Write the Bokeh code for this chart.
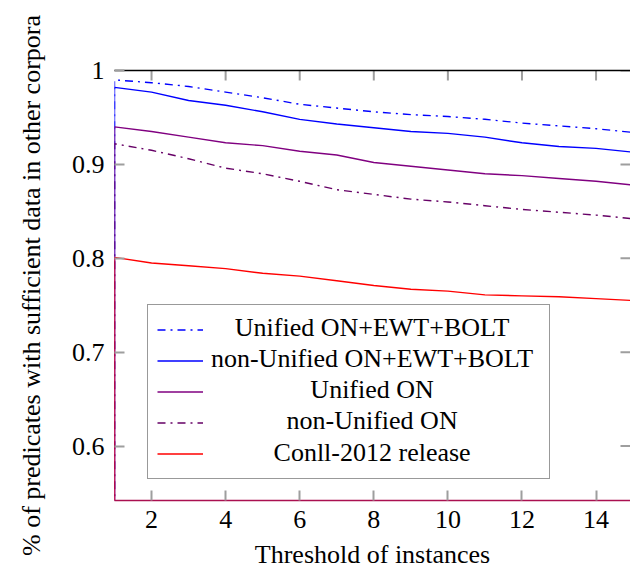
from bokeh.plotting import figure
from bokeh.models import (Range1d, FixedTicker, LinearAxis, Legend, LegendItem,
                          Label, CustomJSTickFormatter)
from bokeh.embed import file_html
from bokeh.resources import INLINE

# ---------------- data ----------------
thresholds = [1, 2, 3, 4, 5, 6, 7, 8, 9, 10, 11, 12, 13, 14, 15]

unified_all = [0.990, 0.987, 0.983, 0.977, 0.971, 0.964, 0.960, 0.956,
               0.953, 0.951, 0.948, 0.944, 0.941, 0.938, 0.934]
nonunified_all = [0.982, 0.977, 0.968, 0.963, 0.956, 0.948, 0.943, 0.939,
                  0.935, 0.933, 0.929, 0.923, 0.919, 0.917, 0.913]
unified_on = [0.940, 0.935, 0.929, 0.923, 0.920, 0.914, 0.910, 0.902,
              0.898, 0.894, 0.890, 0.888, 0.885, 0.882, 0.878]
nonunified_on = [0.922, 0.915, 0.906, 0.896, 0.890, 0.882, 0.873, 0.868,
                 0.863, 0.860, 0.856, 0.852, 0.849, 0.846, 0.842]
conll = [0.801, 0.795, 0.792, 0.789, 0.784, 0.781, 0.776, 0.771,
         0.767, 0.765, 0.761, 0.760, 0.759, 0.757, 0.755]

series_names = ["Unified ON+EWT+BOLT", "non-Unified ON+EWT+BOLT", "Unified ON",
                "non-Unified ON", "Conll-2012 release"]
series_values = [unified_all, nonunified_all, unified_on, nonunified_on, conll]
series_colors = ["#0000ff", "#0000ff", "#800080", "#660066", "#ff0000"]
series_dashes = ["8 5 2 5", "solid", "solid", "8 5 2 5", "solid"]

# every curve rises from zero at the first threshold
origin_value = 0.0

x_ticks = [2, 4, 6, 8, 10, 12, 14]
y_ticks = [0.6, 0.7, 0.8, 0.9, 1.0]

FONT = "Liberation Serif"
FS = "26px"
TICK_GRAY = "#9e9e9e"
TICK_W = 2.0

x_range = Range1d(1, 14.93)
y_range = Range1d(0.542, 1.0)

p = figure(width=630, height=572, output_backend="svg", toolbar_location=None,
           x_range=x_range, y_range=y_range,
           min_border_left=114, min_border_right=0, min_border_top=70,
           min_border_bottom=72)
p.outline_line_color = None
p.grid.visible = False
p.background_fill_color = "white"
p.border_fill_color = "white"

renderers = []
for vals, col, dash in zip(series_values, series_colors, series_dashes):
    xs = [thresholds[0]] + thresholds
    ys = [origin_value] + vals
    r = p.line(xs, ys, line_color=col, line_width=1.4, line_dash=dash)
    renderers.append(r)

# mirrored inward tick marks on the top and right edges (drawn from the tick lists)
p.segment(x0=x_ticks, x1=x_ticks, y0=[y_range.end] * len(x_ticks),
          y1=[y_range.end - 0.0107] * len(x_ticks),
          line_color=TICK_GRAY, line_width=TICK_W)
p.segment(x0=[x_range.end] * len(y_ticks), x1=[x_range.end - 0.27] * len(y_ticks),
          y0=y_ticks, y1=y_ticks, line_color=TICK_GRAY, line_width=TICK_W)


def style_axis(ax, line_color="black"):
    ax.major_tick_in = 10
    ax.major_tick_out = 0
    ax.minor_tick_in = 0
    ax.minor_tick_out = 0
    ax.major_tick_line_color = TICK_GRAY
    ax.major_tick_line_width = TICK_W
    ax.axis_line_color = line_color
    ax.axis_line_width = 1.3
    ax.major_label_text_font = FONT
    ax.major_label_text_font_size = FS
    ax.major_label_text_color = "black"
    ax.axis_label_text_font = FONT
    ax.axis_label_text_font_size = FS
    ax.axis_label_text_font_style = "normal"
    ax.axis_label_text_color = "black"


xa = p.xaxis[0]
xa.ticker = FixedTicker(ticks=x_ticks)
xa.axis_label = "Threshold of instances"
style_axis(xa, line_color="#aa1050")
xa.major_label_standoff = 10
xa.axis_label_standoff = 9

ya = p.yaxis[0]
ya.ticker = FixedTicker(ticks=y_ticks)
ya.formatter = CustomJSTickFormatter(code="return Number(tick.toFixed(1)).toString()")
ya.axis_label = "% of predicates with sufficient data in other corpora"
style_axis(ya, line_color=None)
ya.major_label_standoff = 10
ya.axis_label_standoff = 23

top = LinearAxis(ticker=FixedTicker(ticks=x_ticks),
                 formatter=CustomJSTickFormatter(code="return '.'"))
style_axis(top)
top.major_tick_in = 0
top.major_label_text_font_size = "1px"
top.major_label_text_alpha = 0.0
top.major_label_standoff = 0
p.add_layout(top, "above")

# legend: sample lines + frame from Bokeh, centred texts as labels
items = [LegendItem(label=" ", renderers=[r]) for r in renderers]
legend = Legend(items=items, location=(33, 21), glyph_width=46, glyph_height=31,
                label_standoff=0, label_width=337, label_height=31,
                label_text_font_size="1px", padding=9, spacing=0, margin=0,
                border_line_color="#333333", border_line_width=1.5,
                background_fill_color="white", background_fill_alpha=0.0)
p.add_layout(legend, "center")

legend_text_x = 7.954
legend_text_y = [0.7262, 0.6932, 0.6602, 0.6272, 0.5932]
for name, ty in zip(series_names, legend_text_y):
    p.add_layout(Label(x=legend_text_x, y=ty, text=name, text_align="center",
                       text_baseline="middle", text_font=FONT,
                       text_font_size=FS, text_color="black", level="overlay"))

open("out.html", "w").write(file_html(p, INLINE))
